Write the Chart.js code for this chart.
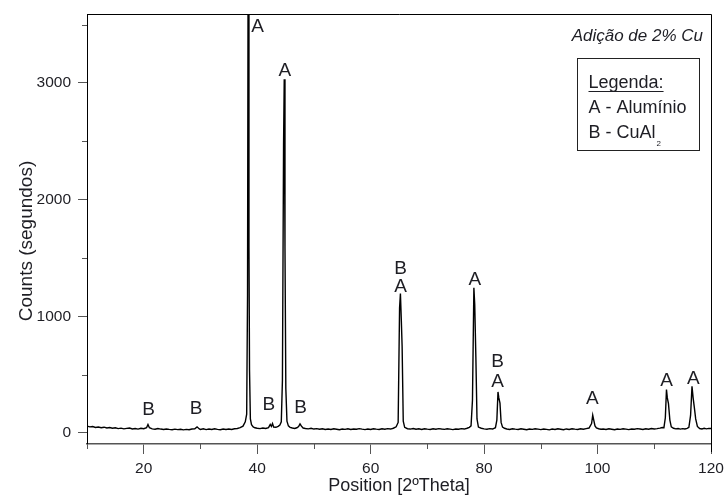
<!DOCTYPE html>
<html>
<head>
<meta charset="utf-8">
<script src="https://cdn.jsdelivr.net/npm/chart.js@4.4.1/dist/chart.umd.min.js"></script>
<style>
  html, body { margin: 0; padding: 0; background: #fff; }
  #wrap { width: 725px; height: 498px; }
</style>
</head>
<body>
<div id="wrap"><canvas id="xrd" width="725" height="498"></canvas></div>
<script>
// XRD scan: Al alloy with 2% Cu addition
const twoTheta = [
  10, 10.5, 11, 11.5, 12, 12.5, 13, 13.5, 14, 14.5, 15, 15.5, 16, 16.5, 17, 17.5, 18, 18.5, 19, 19.5, 20, 20.5,
  20.75, 21.0, 21.5, 22, 22.5, 23, 23.5, 24, 24.5, 25, 25.5, 26, 26.5, 27, 27.5, 28, 28.5, 29,
  29.4, 29.8, 30, 30.5, 31, 31.5, 32, 32.5, 33, 33.5, 34, 34.5, 35, 35.5, 36, 36.5, 37, 37.5,
  37.9, 38.15, 38.3, 38.45, 38.55, 38.65, 38.8, 39.0, 39.3, 39.6, 40, 40.5, 41, 41.5, 42, 42.3, 42.5, 42.7, 42.9, 43.3, 43.7, 44.0, 44.25,
  44.45, 44.65, 44.77, 44.9, 45.05, 45.25, 45.5, 45.8, 46.2, 46.6, 47, 47.3, 47.55, 47.8, 48.1, 48.5, 49, 49.5, 50, 50.5,
  51, 51.5, 52, 52.5, 53, 53.5, 54, 54.5, 55, 55.5, 56, 56.5, 57, 57.5, 58, 58.5, 59, 59.5, 60, 60.5, 61, 61.5, 62, 62.5, 63, 63.5, 64, 64.5,
  64.85, 65.1, 65.25, 65.4, 65.55, 65.75, 66, 66.5, 67, 67.5, 68, 68.5, 69, 69.5, 70, 70.5, 71, 71.5, 72, 72.5, 73, 73.5, 74, 74.5, 75, 75.5, 76, 76.5, 77, 77.4, 77.7,
  77.95, 78.2, 78.35, 78.55, 78.75, 79.0, 79.5, 80, 80.5, 81, 81.5, 82, 82.25, 82.45, 82.6, 82.8, 83.0, 83.25, 83.6, 84, 84.5, 85,
  85.5, 86, 86.5, 87, 87.5, 88, 88.5, 89, 89.5, 90, 90.5, 91, 91.5, 92, 92.5, 93, 93.5, 94, 94.5, 95, 95.5, 96, 96.5, 97, 97.5, 98, 98.5,
  98.95, 99.15, 99.35, 99.55, 99.8, 100.2, 100.6, 101, 101.5, 102, 102.5, 103, 103.5, 104, 104.5, 105, 105.5, 106, 106.5, 107, 107.5, 108, 108.5, 109, 109.5, 110, 110.5, 111, 111.4,
  111.7, 111.95, 112.15, 112.3, 112.5, 112.75, 113.0, 113.4, 113.8, 114.2, 114.6, 115, 115.4, 115.8, 116.1, 116.4, 116.65, 116.85, 117.05, 117.3, 117.6, 118, 118.4, 118.8, 119.2, 119.6, 120
];
const counts = [
  58, 52, 55, 47, 50, 44, 49, 42, 46, 40, 44, 37, 41, 35, 39, 42, 34, 38, 33, 40, 36, 44,
  72, 45, 35, 31, 38, 33, 29, 34, 30, 27, 32, 28, 31, 26, 30, 27, 33, 36,
  52, 34, 30, 35, 28, 33, 29, 35, 30, 27, 33, 29, 34, 30, 36, 38, 45, 58,
  95, 160, 1180, 5500, 1600, 540, 120, 70, 52, 44, 40, 37, 42, 38, 45, 72, 55, 80, 50, 48, 56, 68, 95,
  450, 2470, 3030, 1590, 380, 100, 60, 48, 42, 38, 44, 55, 78, 58, 42, 38, 35, 40, 33, 37,
  31, 36, 30, 34, 29, 35, 31, 27, 33, 30, 36, 29, 34, 31, 37, 32, 28, 34, 30, 36, 32, 29, 35, 31, 37, 33, 40, 52,
  90, 1070, 1195, 980, 743, 100, 48, 36, 33, 38, 31, 35, 30, 36, 32, 29, 35, 31, 37, 33, 30, 36, 32, 28, 34, 31, 37, 33, 40, 48, 60,
  280, 1243, 1100, 651, 120, 50, 40, 35, 31, 37, 33, 45, 110, 351, 300, 255, 90, 50, 40, 34, 30, 36,
  32, 29, 35, 31, 27, 33, 30, 36, 32, 28, 34, 30, 26, 33, 29, 35, 31, 27, 34, 30, 36, 32, 29, 35, 31, 37, 42,
  80, 152, 105, 60, 42, 36, 31, 34, 29, 35, 31, 27, 33, 30, 36, 32, 28, 34, 31, 37, 33, 29, 35, 32, 38, 34, 37, 41, 46,
  45, 130, 372, 300, 252, 110, 52, 40, 35, 38, 33, 37, 34, 39, 48, 150, 400, 300, 223, 120, 55, 38, 34, 40, 35, 39, 38
];

// Axis ticks
const xMajorTicks = [20, 40, 60, 80, 100, 120];
const xMinorTicks = [10, 30, 50, 70, 90, 110];
const yMajorTicks = [0, 1000, 2000, 3000];
const yMinorTicks = [500, 1500, 2500, 3500];

// Phase markers above the reflections
const peakText = ['A', 'A', 'B', 'A', 'A', 'B', 'A', 'A', 'A', 'A', 'B', 'B', 'B', 'B'];
const peakTextX = [40.05, 44.87, 65.29, 65.29, 78.35, 82.4, 82.4, 99.1, 112.17, 116.87, 20.87, 29.23, 42.05, 47.64];
const peakTextY = [3480, 3100, 1409, 1251, 1309, 609, 437, 295, 446, 460, 195, 203, 237, 218];

const FONT = "'Liberation Sans', Arial, Helvetica, sans-serif";
const TEXT = '#1e1e24';

const points = twoTheta.map((x, i) => ({ x, y: counts[i] }));

const decorations = {
  id: 'decorations',
  afterDraw(chart) {
    const { ctx, chartArea: a } = chart;
    const xs = chart.scales.x, ys = chart.scales.y;
    ctx.save();

    // top and right frame
    ctx.strokeStyle = '#000';
    ctx.lineWidth = 1;
    ctx.beginPath();
    ctx.moveTo(a.left, 14.5);
    ctx.lineTo(Math.round(a.right) + 0.5, 14.5);
    ctx.lineTo(Math.round(a.right) + 0.5, a.bottom + 8);
    ctx.stroke();

    // minor ticks
    ctx.strokeStyle = '#555';
    ctx.beginPath();
    xMinorTicks.forEach(v => {
      const px = Math.round(xs.getPixelForValue(v)) + 0.5;
      ctx.moveTo(px, a.bottom);
      ctx.lineTo(px, a.bottom + 5);
    });
    yMinorTicks.forEach(v => {
      const py = Math.round(ys.getPixelForValue(v)) + 0.5;
      ctx.moveTo(a.left - 5, py);
      ctx.lineTo(a.left, py);
    });
    ctx.stroke();

    // peak markers
    ctx.fillStyle = TEXT;
    ctx.font = `19px ${FONT}`;
    ctx.textAlign = 'center';
    ctx.textBaseline = 'middle';
    peakText.forEach((t, i) => {
      ctx.fillText(t, xs.getPixelForValue(peakTextX[i]), ys.getPixelForValue(peakTextY[i]));
    });

    // y axis title
    ctx.save();
    ctx.translate(31.5, 241);
    ctx.rotate(-Math.PI / 2);
    ctx.textAlign = 'center';
    ctx.textBaseline = 'alphabetic';
    ctx.font = `19px ${FONT}`;
    ctx.fillText('Counts (segundos)', 0, 0);
    ctx.restore();

    // sample title
    ctx.font = `italic 17px ${FONT}`;
    ctx.textAlign = 'right';
    ctx.textBaseline = 'alphabetic';
    ctx.fillText('Adição de 2% Cu', 703, 40.5);

    // legend box
    ctx.fillStyle = '#fff';
    ctx.fillRect(577.5, 58.5, 122, 92);
    ctx.strokeStyle = '#222';
    ctx.strokeRect(577.5, 58.5, 122, 92);
    ctx.fillStyle = TEXT;
    ctx.font = `18px ${FONT}`;
    ctx.textAlign = 'left';
    ctx.fillText('Legenda:', 588.5, 88.3);
    const uw = ctx.measureText('Legenda:').width;
    ctx.strokeStyle = TEXT;
    ctx.beginPath();
    ctx.moveTo(588.5, 91.5);
    ctx.lineTo(588.5 + uw, 91.5);
    ctx.stroke();
    ctx.fillText('A - Alumínio', 588.5, 113.3);
    ctx.fillText('B - CuAl', 588.5, 138.3);
    const bw = ctx.measureText('B - CuAl').width;
    ctx.font = `8px ${FONT}`;
    ctx.fillText('2', 588.5 + bw + 1, 146);

    ctx.restore();
  }
};

new Chart(document.getElementById('xrd'), {
  type: 'line',
  data: {
    datasets: [{
      data: points,
      borderColor: '#000',
      borderWidth: 1.4,
      pointRadius: 0,
      tension: 0,
      fill: false
    }]
  },
  options: {
    responsive: false,
    animation: false,
    devicePixelRatio: 1,
    layout: { padding: { top: 14, right: 14, left: 0, bottom: 0 } },
    plugins: { legend: { display: false }, tooltip: { enabled: false } },
    scales: {
      x: {
        type: 'linear',
        min: 10,
        max: 120,
        afterBuildTicks: s => { s.ticks = xMajorTicks.map(v => ({ value: v })); },
        afterFit: s => { s.height = 54; s.paddingLeft = 0; s.paddingRight = 0; },
        ticks: {
          autoSkip: false,
          maxRotation: 0,
          padding: 5,
          color: TEXT,
          font: { family: FONT, size: 15.5 },
          callback: v => String(v)
        },
        grid: { drawOnChartArea: false, drawTicks: true, tickLength: 10, color: '#555' },
        border: { display: true, color: '#555', width: 1.5 },
        title: {
          display: true,
          text: 'Position [2ºTheta]',
          color: TEXT,
          font: { family: FONT, size: 18 },
          padding: { top: 0, bottom: 1 }
        }
      },
      y: {
        type: 'linear',
        min: -95,
        max: 3590,
        afterBuildTicks: s => { s.ticks = yMajorTicks.map(v => ({ value: v })); },
        afterFit: s => { s.width = 87; s.paddingTop = 0; s.paddingBottom = 0; },
        ticks: {
          padding: 7,
          color: TEXT,
          font: { family: FONT, size: 15.5 },
          callback: v => String(v)
        },
        grid: { drawOnChartArea: false, drawTicks: true, tickLength: 9, color: '#555' },
        border: { display: true, color: '#000', width: 1 }
      }
    }
  },
  plugins: [decorations]
});
</script>
</body>
</html>
